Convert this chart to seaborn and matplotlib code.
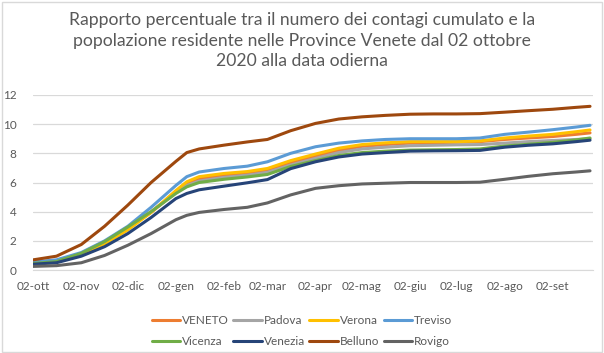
import numpy as np
import pandas as pd
import matplotlib
matplotlib.use("Agg")
import matplotlib.pyplot as plt
import seaborn as sns

# date di campionamento
date = pd.to_datetime([
    "2020-10-02", "2020-10-17", "2020-11-02", "2020-11-17", "2020-12-02",
    "2020-12-17", "2021-01-02", "2021-01-09", "2021-01-17", "2021-02-02",
    "2021-02-17", "2021-03-02", "2021-03-17", "2021-04-02", "2021-04-17",
    "2021-05-02", "2021-05-17", "2021-06-02", "2021-06-17", "2021-07-02",
    "2021-07-17", "2021-08-02", "2021-08-17", "2021-09-02", "2021-09-17",
    "2021-09-26",
])

veneto = [0.5, 0.62, 1.1, 1.85, 2.85, 3.95, 5.35, 5.9, 6.25, 6.48, 6.6, 6.82, 7.35,
          7.8, 8.2, 8.48, 8.6, 8.7, 8.73, 8.76, 8.8, 8.95, 9.05, 9.15, 9.3, 9.4]
padova = [0.5, 0.6, 1.1, 1.9, 2.9, 4.0, 5.3, 5.8, 6.1, 6.35, 6.5, 6.7, 7.2,
          7.65, 8.05, 8.3, 8.42, 8.52, 8.55, 8.58, 8.6, 8.7, 8.8, 8.88, 8.95, 9.0]
verona = [0.5, 0.62, 1.05, 1.8, 2.75, 3.95, 5.45, 6.05, 6.4, 6.62, 6.75, 6.96, 7.5,
          7.95, 8.35, 8.6, 8.72, 8.8, 8.8, 8.8, 8.85, 9.05, 9.18, 9.3, 9.48, 9.6]
treviso = [0.55, 0.7, 1.2, 2.0, 3.0, 4.3, 5.8, 6.4, 6.72, 6.96, 7.12, 7.42, 8.0,
           8.45, 8.7, 8.85, 8.95, 9.0, 9.0, 9.0, 9.05, 9.3, 9.45, 9.62, 9.8, 9.92]
vicenza = [0.45, 0.58, 1.15, 1.95, 2.95, 4.0, 5.25, 5.7, 6.0, 6.22, 6.38, 6.55, 7.1,
           7.5, 7.85, 8.05, 8.15, 8.22, 8.24, 8.26, 8.3, 8.5, 8.62, 8.75, 8.92, 9.05]
venezia = [0.4, 0.5, 0.95, 1.6, 2.5, 3.6, 4.9, 5.25, 5.5, 5.75, 5.98, 6.2, 6.95,
           7.42, 7.75, 7.95, 8.05, 8.15, 8.17, 8.18, 8.2, 8.42, 8.55, 8.65, 8.8, 8.9]
belluno = [0.7, 0.95, 1.75, 3.0, 4.45, 6.0, 7.45, 8.05, 8.3, 8.56, 8.78, 8.95, 9.55,
           10.05, 10.35, 10.5, 10.6, 10.68, 10.7, 10.7, 10.72, 10.82, 10.92, 11.02,
           11.15, 11.22]
rovigo = [0.25, 0.3, 0.5, 1.0, 1.7, 2.5, 3.45, 3.75, 3.95, 4.15, 4.3, 4.6, 5.15,
          5.6, 5.78, 5.9, 5.95, 6.0, 6.0, 6.0, 6.02, 6.22, 6.42, 6.6, 6.72, 6.8]

province = ["VENETO", "Padova", "Verona", "Treviso",
            "Vicenza", "Venezia", "Belluno", "Rovigo"]
serie = [veneto, padova, verona, treviso, vicenza, venezia, belluno, rovigo]
colori = ["#ED7D31", "#A5A5A5", "#FFC000", "#5B9BD5",
          "#70AD47", "#264478", "#9E480E", "#636363"]

tick_date = pd.to_datetime([
    "2020-10-02", "2020-11-02", "2020-12-02", "2021-01-02", "2021-02-02",
    "2021-03-02", "2021-04-02", "2021-05-02", "2021-06-02", "2021-07-02",
    "2021-08-02", "2021-09-02",
])
tick_label = ["02-ott", "02-nov", "02-dic", "02-gen", "02-feb", "02-mar",
              "02-apr", "02-mag", "02-giu", "02-lug", "02-ago", "02-set"]

df = pd.concat([
    pd.DataFrame({"data": date, "valore": v, "provincia": p})
    for p, v in zip(province, serie)
])

sns.set_style("white")
plt.rcParams["font.family"] = ["Lato", "DejaVu Sans"]

fig = plt.figure(figsize=(6.04, 3.53), dpi=100)
ax = fig.add_axes([0.055, 0.235, 0.927, 0.496])

sns.lineplot(data=df, x="data", y="valore", hue="provincia",
             palette=dict(zip(province, colori)), hue_order=province,
             linewidth=2.2, ax=ax, legend=True)

ax.set_xlim(pd.Timestamp("2020-10-02"), pd.Timestamp("2021-09-28"))
ax.set_ylim(0, 12)
ax.set_yticks(range(0, 13, 2))
ax.set_xticks(tick_date)
ax.set_xticklabels(tick_label)
ax.set_xlabel("")
ax.set_ylabel("")
ax.grid(axis="y", color="#D9D9D9", linewidth=0.9)
ax.set_axisbelow(True)
for s in ["top", "right", "left"]:
    ax.spines[s].set_visible(False)
ax.spines["bottom"].set_color("#D9D9D9")
ax.tick_params(axis="x", colors="#595959", labelsize=8.5, length=4,
               color="#D9D9D9", pad=4)
ax.tick_params(axis="y", colors="#595959", labelsize=8.5, length=0, pad=12)

# legenda su due righe (ordine per righe)
handles, labels = ax.get_legend_handles_labels()
ordine = [0, 4, 1, 5, 2, 6, 3, 7]
ax.legend([handles[i] for i in ordine], [labels[i] for i in ordine],
          ncol=4, loc="center", bbox_to_anchor=(0.5, 0.062),
          bbox_transform=fig.transFigure, frameon=False, fontsize=8.5,
          handlelength=2.4, handletextpad=0.15, columnspacing=0.4,
          labelspacing=0.85, labelcolor="#595959")

fig.text(0.5, 0.965,
         "Rapporto percentuale tra il numero dei contagi cumulato e la\n"
         "popolazione residente nelle Province Venete dal 02 ottobre\n"
         "2020 alla data odierna",
         ha="center", va="top", fontsize=12.6, color="#595959", linespacing=1.35)

fig.patches.append(plt.Rectangle((0.003, 0.004), 0.993, 0.991, fill=False,
                                 edgecolor="#D9D9D9", linewidth=1,
                                 transform=fig.transFigure))

fig.savefig("out.png", dpi=100)
